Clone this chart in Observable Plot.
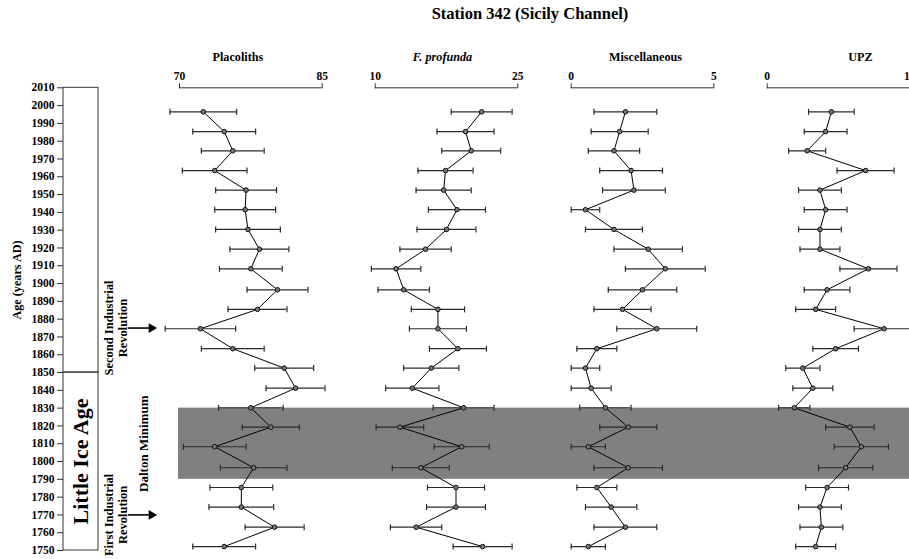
<!DOCTYPE html>
<html>
<head>
<meta charset="utf-8">
<script src="https://cdn.jsdelivr.net/npm/d3@7"></script>
<script src="https://cdn.jsdelivr.net/npm/@observablehq/plot@0.6"></script>
<style>
  html, body { margin: 0; padding: 0; background: white; }
  #wrap { position: relative; width: 909px; height: 559px; overflow: hidden; }
  #title { position: absolute; top: 4px; left: 530px; transform: translateX(-50%);
           font: bold 16.5px "Liberation Serif", serif; white-space: nowrap; line-height: 19px; }
</style>
</head>
<body>
<div id="wrap"><div id="title">Station 342 (Sicily Channel)</div></div>
<script>
// ---- data ----
const years = [1996.5, 1985.4, 1974.6, 1963.5, 1952.5, 1941.5, 1930.4, 1919.3, 1908.3, 1896.5, 1885.5, 1874.6,
               1863.4, 1852.5, 1841.2, 1830.2, 1819.3, 1808.3, 1796.5, 1785.4, 1774.4, 1763.1, 1752.2];

const placoliths    = [72.5, 74.7, 75.6, 73.7, 77.0, 76.9, 77.2, 78.4, 77.5, 80.3, 78.2, 72.2, 75.6, 81.0, 82.2, 77.5, 79.6, 73.7, 77.8, 76.5, 76.5, 80.0, 74.7];
const placolithsErr = [3.5, 3.3, 3.3, 3.4, 3.2, 3.2, 3.4, 3.1, 3.3, 3.2, 3.1, 3.7, 3.3, 3.1, 3.1, 3.4, 3.0, 3.3, 3.5, 3.3, 3.4, 3.1, 3.3];

const profunda      = [21.2, 19.5, 20.1, 17.4, 17.2, 18.6, 17.5, 15.3, 12.2, 13.0, 16.6, 16.6, 18.7, 15.9, 13.9, 19.3, 12.6, 19.1, 14.8, 18.5, 18.5, 14.3, 21.3];
const profundaErr   = [3.2, 3.0, 3.1, 2.9, 2.9, 3.0, 3.1, 2.7, 2.6, 2.7, 2.8, 3.0, 3.0, 2.9, 2.8, 3.2, 2.5, 2.9, 3.0, 3.0, 3.1, 2.7, 3.1];

const misc          = [1.9, 1.7, 1.5, 2.1, 2.2, 0.5, 1.5, 2.7, 3.3, 2.5, 1.8, 3.0, 0.9, 0.5, 0.7, 1.2, 2.0, 0.6, 2.0, 0.9, 1.4, 1.9, 0.6];
const miscErr       = [1.1, 1.0, 0.9, 1.1, 1.1, 0.5, 1.0, 1.2, 1.4, 1.2, 1.0, 1.4, 0.7, 0.5, 0.7, 0.9, 1.0, 0.6, 1.2, 0.7, 0.9, 1.1, 0.6];

const upz           = [0.45, 0.41, 0.28, 0.69, 0.37, 0.41, 0.37, 0.37, 0.71, 0.42, 0.34, 0.82, 0.48, 0.25, 0.32, 0.19, 0.58, 0.66, 0.55, 0.42, 0.37, 0.38, 0.34];
const upzErr        = [0.16, 0.15, 0.13, 0.20, 0.15, 0.15, 0.15, 0.14, 0.20, 0.16, 0.14, 0.21, 0.16, 0.12, 0.14, 0.11, 0.17, 0.19, 0.19, 0.15, 0.15, 0.15, 0.14];

const yearTicks = d3.range(1750, 2011, 10);
const periods = [{name: "Little Ice Age", start: 1750, end: 1850}, {name: "", start: 1850, end: 2010}];
const events = [{label: "Second Industrial\nRevolution", year: 1875}, {label: "First Industrial\nRevolution", year: 1770}];
const dalton = [{label: "Dalton Minimum", start: 1790, end: 1830}];

// ---- layout ----
const W = 909, H = 559, TOP = 87.3, BOTTOM = 9;
const svgStyle = "position:absolute;left:0;top:0;background:transparent;overflow:visible;max-width:none;" +
                 "font-family:'Liberation Serif',serif;font-size:11px;font-weight:bold;";
const wrap = document.getElementById("wrap");
const titleDiv = document.getElementById("title");
const yScale = {domain: [1750, 2010], axis: null};

const vbar = {draw(ctx, size) { const h = Math.sqrt(size / Math.PI); ctx.moveTo(0, -h); ctx.lineTo(0, h); }};

// gray Dalton band behind everything
const band = Plot.plot({
  width: W, height: H, marginLeft: 178, marginRight: 0, marginTop: TOP, marginBottom: BOTTOM,
  y: yScale, style: svgStyle,
  marks: [Plot.rect(dalton, {y1: "start", y2: "end", fill: "#808080"})]
});
wrap.insertBefore(band, wrap.firstChild);

// left axis + annotations
const left = Plot.plot({
  width: W, height: H, marginLeft: 63, marginRight: W - 163, marginTop: TOP, marginBottom: BOTTOM,
  x: {domain: [0, 100], axis: null},
  y: {domain: [1750, 2010]},
  style: svgStyle,
  marks: [
    Plot.axisY({ticks: yearTicks, tickFormat: "d", tickSize: 6, tickPadding: 3, label: null, stroke: "#333", fontSize: 11.5}),
    Plot.rect(periods, {x1: 0, x2: 35, y1: "start", y2: "end", stroke: "#333", fill: "none"}),
    Plot.text(periods, {x: 17.5, y: d => (d.start + d.end) / 2, text: "name", rotate: -90, fontSize: 22}),
    Plot.text(events, {x: 52, y: "year", text: "label", rotate: -90, lineHeight: 1.15, fontSize: 12.5}),
    Plot.ruleY(events, {y: "year", x1: 65, x2: 87, stroke: "black", strokeWidth: 1.6}),
    Plot.dot(events, {x: 88, y: "year", symbol: "triangle", rotate: 90, r: 3.6, fill: "black", stroke: "none"}),
    Plot.text(dalton, {x: 80, y: d => (d.start + d.end) / 2, text: "label", rotate: -90, fontSize: 13}),
    Plot.text(["Age (years AD)"], {x: -46, y: 1902, text: d => d, rotate: -90, fontSize: 12.2})
  ]
});
wrap.insertBefore(left, titleDiv);

// panels
const panels = [
  {title: "Placoliths",    italic: false, values: placoliths, errs: placolithsErr, domain: [70, 85], x0: 179,   x1: 321.7, dx: -13, endAnchor: "middle"},
  {title: "F. profunda",   italic: true,  values: profunda,   errs: profundaErr,   domain: [10, 25], x0: 374.7, x1: 517.3, dx: -4,  endAnchor: "middle"},
  {title: "Miscellaneous", italic: false, values: misc,       errs: miscErr,       domain: [0, 5],   x0: 570.7, x1: 713.3, dx: 3,   endAnchor: "middle"},
  {title: "UPZ",           italic: false, values: upz,        errs: upzErr,        domain: [0, 1],   x0: 766.7, x1: 909.3, dx: 22,  endAnchor: "end"}
];

for (const p of panels) {
  const rows = years.map((year, i) => ({year, v: p.values[i], e: p.errs[i]}));
  const svg = Plot.plot({
    width: W, height: H, marginLeft: p.x0, marginRight: W - p.x1, marginTop: TOP, marginBottom: BOTTOM,
    x: {domain: p.domain},
    y: yScale,
    style: svgStyle,
    marks: [
      Plot.axisX({anchor: "top", ticks: [p.domain[0]], tickSize: 5, tickPadding: 3, tickFormat: d => String(d), label: null, stroke: "#333", fontSize: 11.5}),
      Plot.axisX({anchor: "top", ticks: [p.domain[1]], tickSize: 5, tickPadding: 3, tickFormat: d => String(d), label: null, stroke: "#333", fontSize: 11.5, textAnchor: p.endAnchor}),
      Plot.ruleY([2010], {stroke: "#333"}),
      Plot.ruleY(rows, {y: "year", x1: d => d.v - d.e, x2: d => d.v + d.e, stroke: "#2a2a2a", strokeWidth: 1.2}),
      Plot.dot(rows, {x: d => d.v - d.e, y: "year", symbol: vbar, r: 3, fill: "none", stroke: "#2a2a2a", strokeWidth: 1.2}),
      Plot.dot(rows, {x: d => d.v + d.e, y: "year", symbol: vbar, r: 3, fill: "none", stroke: "#2a2a2a", strokeWidth: 1.2}),
      Plot.line(rows, {x: "v", y: "year", stroke: "black", strokeWidth: 1}),
      Plot.dot(rows, {x: "v", y: "year", r: 2.3, fill: "#777", stroke: "#111", strokeWidth: 1}),
      Plot.text([p.title], {frameAnchor: "top", dx: p.dx, dy: -35, text: d => d, fontSize: 12.2,
                            fontStyle: p.italic ? "italic" : "normal"})
    ]
  });
  wrap.insertBefore(svg, titleDiv);
}
</script>
</body>
</html>
